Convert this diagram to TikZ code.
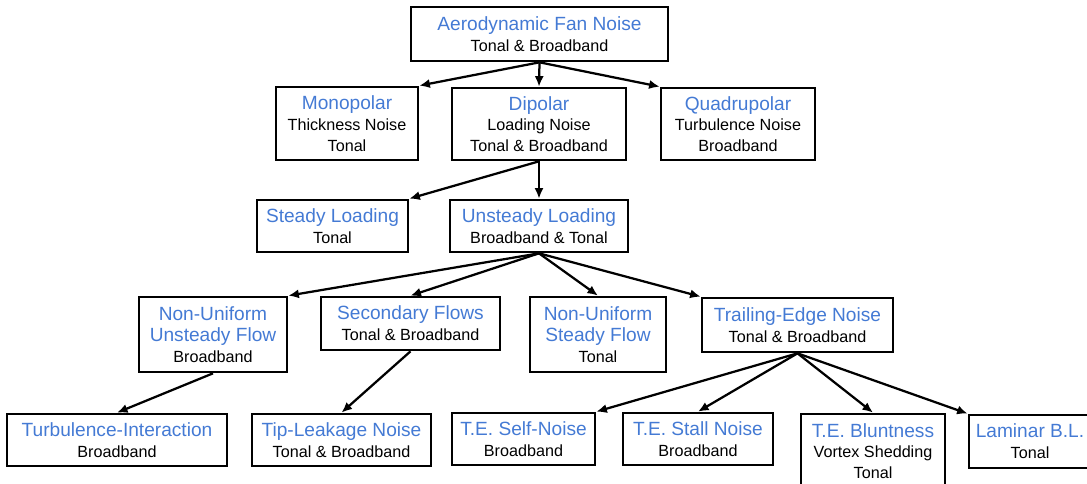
\documentclass[tikz,border=0pt]{standalone}
\usepackage{fontspec}
\setmainfont{Liberation Sans}
\usetikzlibrary{arrows.meta}
\definecolor{capblue}{RGB}{68,122,212}
\newcommand{\ttl}[1]{{\fontsize{13.6}{15}\selectfont\color{capblue}#1}}
\tikzset{
    box/.style={draw, line width=1.9pt, align=center, inner sep=0pt,
      font=\fontsize{11.5}{14.8}\selectfont},
    wh/.style 2 args={minimum width=#1*0.025cm, minimum height=#2*0.025cm},
    link/.style={-{Latex[length=7.5pt,width=6.5pt]}, line width=1.6pt}
}

\begin{document}
\begin{tikzpicture}[x=0.025cm,y=-0.025cm]
                \useasboundingbox (0,0) rectangle (1087,484);
                % source
                \node [box, wh={257}{54}] (fan) at (539.5,34) {\ttl{Aerodynamic Fan Noise}\\Tonal \& Broadband};
                % multipole sources
                \node [box, wh={142}{73}] (mono) at (347,123.5) {\ttl{Monopolar}\\Thickness Noise\\Tonal};
                \node [box, wh={174}{72}] (dip) at (539,124) {\ttl{Dipolar}\\Loading Noise\\Tonal \& Broadband};
                \node [box, wh={154}{72}] (quad) at (738,124) {\ttl{Quadrupolar}\\Turbulence Noise\\Broadband};
                % loading
                \node [box, wh={151}{52}] (steady) at (332.5,226) {\ttl{Steady Loading}\\Tonal};
                \node [box, wh={178}{52}] (unsteady) at (539,226) {\ttl{Unsteady Loading}\\Broadband \& Tonal};
                % mechanisms
                \node [box, wh={148}{75}] (nuuf) at (213,334.5) {\ttl{Non-Uniform}\\\ttl{Unsteady Flow}\\Broadband};
                \node [box, wh={179}{53}] (sec) at (410.5,323.5) {\ttl{Secondary Flows}\\Tonal \& Broadband};
                \node [box, wh={136}{75}] (nusf) at (598,334.5) {\ttl{Non-Uniform}\\\ttl{Steady Flow}\\Tonal};
                \node [box, wh={191}{54}] (te) at (797.5,325) {\ttl{Trailing-Edge Noise}\\Tonal \& Broadband};
                % bottom row
                \node [box, wh={220}{52}] (turb) at (117,440) {\ttl{Turbulence-Interaction}\\Broadband};
                \node [box, wh={179}{52}] (tip) at (341.5,440) {\ttl{Tip-Leakage Noise}\\Tonal \& Broadband};
                \node [box, wh={143}{52}] (self) at (523.5,439) {\ttl{T.E. Self-Noise}\\Broadband};
                \node [box, wh={150}{52}] (stall) at (698,439) {\ttl{T.E. Stall Noise}\\Broadband};
                \node [box, wh={144}{74}] (blunt) at (873,451) {\ttl{T.E. Bluntness}\\Vortex Shedding\\Tonal};
                \node [box, wh={122}{53}] (lam) at (1030,441.5) {\ttl{Laminar B.L.}\\Tonal};
                % arrows
                \draw [link] (fan.south) -- (mono.north east);
                \draw [link] (fan.south) -- (dip.north);
                \draw [link] (fan.south) -- (quad.north west);
                \draw [link] (dip.south) -- (steady.north east);
                \draw [link] (dip.south) -- (unsteady.north);
                \draw [link] (unsteady.south) -- (nuuf.north east);
                \draw [link] (unsteady.south) -- (sec.north);
                \draw [link] (unsteady.south) -- (nusf.north);
                \draw [link] (unsteady.south) -- (te.north west);
                \draw [link] (nuuf.south) -- (turb.north);
                \draw [link] (sec.south) -- (tip.north);
                \draw [link] (te.south) -- (self.north east);
                \draw [link] (te.south) -- (stall.north);
                \draw [link] (te.south) -- (blunt.north);
                \draw [link] (te.south) -- (lam.north west);
      \end{tikzpicture}
\end{document}
